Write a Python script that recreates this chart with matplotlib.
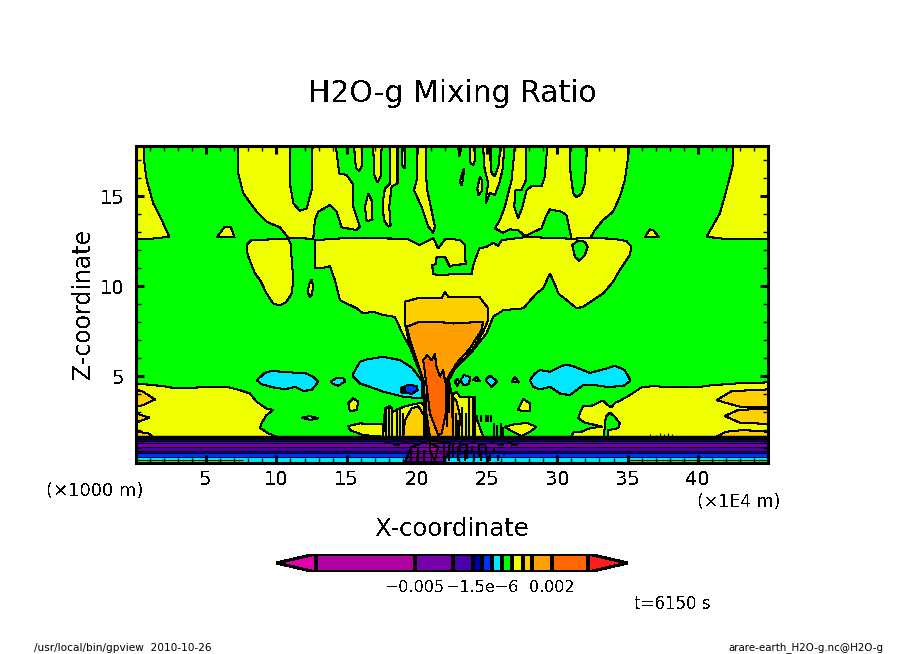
# =============================
# H2O-g MIXING RATIO CONTOURS (gpview style)
# =============================
import matplotlib
matplotlib.use("Agg")
import matplotlib.pyplot as plt

plt.rcParams["font.family"] = "DejaVu Sans"
plt.rcParams["text.antialiased"] = False

W, H = 904, 654

# =============================
# COLOURS OF THE TONE LEVELS
# =============================
MAGENTA = "#e000b0"
PURPLE = "#b000a0"
VIOLET = "#7800a8"
INDIGO = "#4800a8"
NAVY = "#0000b0"
BLUE = "#0030ff"
CYAN = "#00e8ff"
GREEN = "#00ff00"
YELLOW = "#f0ff00"
GOLD = "#ffd000"
ORANGE = "#ffa000"
DEEP = "#ff6800"
RED = "#ff1e1e"

# =============================
# CONTOUR OUTLINES (x in 1E4 m, z in 1000 m)
# =============================
top_left_x = [0, .57, .57, .76, 1.23, 1.83, 2.37, 1.12, 0]
top_left_z = [17.78, 17.78, 17.0, 15.89, 14.59, 13.67, 12.74, 12.63, 12.6]

tri_left_x = [5.74, 6.33, 6.74, 7.02]
tri_left_z = [12.70, 13.30, 13.30, 12.70]

upper_a_x = [7.28, 7.28, 7.64, 8.59, 9.30, 10.25, 10.84, 12.62, 12.74, 12.98, 13.81, 14.28, 14.64,
             15.71, 15.94, 15.47, 15.42, 14.99, 14.47, 14.23, 12.57, 12.50, 12.15, 11.67, 11.20, 10.96, 10.96]
upper_a_z = [17.78, 16.26, 15.15, 14.13, 13.57, 13.26, 12.67, 12.63, 13.67, 14.13, 14.50, 14.13, 13.26,
             13.11, 13.30, 14.41, 15.70, 16.17, 16.26, 17.78, 17.78, 15.33, 14.31, 14.18, 14.59, 15.70, 17.78]

finger1_x = [15.52, 15.66, 15.90, 16.06, 16.11]
finger1_z = [17.78, 16.54, 16.41, 16.63, 17.78]
finger2_x = [16.89, 16.96, 17.18, 17.41, 17.49]
finger2_z = [17.78, 16.17, 15.76, 16.07, 17.78]
lens1_x = [16.54, 16.77, 16.84, 16.42, 16.30]
lens1_z = [15.15, 14.78, 13.67, 13.61, 14.41]
finger3_x = [18.08, 18.08, 17.72, 17.56, 17.65, 17.96, 18.13, 18.03, 18.20, 18.62, 18.62]
finger3_z = [17.78, 15.70, 15.42, 14.59, 13.67, 13.30, 13.39, 14.41, 15.52, 15.70, 17.78]
finger4_x = [18.91, 18.98, 19.15, 19.19]
finger4_z = [17.78, 16.63, 16.54, 17.78]
finger5_x = [19.98, 19.98, 19.79, 20.33, 20.81, 21.16, 21.28, 21.04, 20.74, 20.64, 20.62]
finger5_z = [17.78, 15.89, 15.33, 14.41, 13.30, 12.96, 13.30, 14.22, 15.33, 16.26, 17.78]
finger6_x = [22.94, 23.01, 23.13, 23.13]
finger6_z = [17.78, 17.18, 17.55, 17.78]
lens2_x = [23.35, 23.30, 23.18, 23.06, 23.23]
lens2_z = [16.54, 15.98, 15.61, 15.80, 16.26]
finger7_x = [23.77, 23.82, 24.01, 24.13, 24.13]
finger7_z = [17.78, 16.81, 16.72, 17.0, 17.78]
lens3_x = [24.49, 24.67, 24.60, 24.37, 24.30]
lens3_z = [16.07, 15.80, 15.24, 15.05, 15.42]
finger8_x = [24.72, 24.79, 25.08, 24.96, 24.91, 25.20, 25.55, 25.86, 26.15, 26.19, 25.91, 25.86, 25.55, 25.32, 25.24, 25.24]
finger8_z = [17.78, 16.63, 15.70, 15.15, 14.59, 15.18, 15.05, 15.70, 16.63, 17.78, 17.78, 16.81, 16.11, 16.26, 17.0, 17.78]

upper_b_x = [26.98, 27.76, 27.76, 27.45, 27.02, 26.93, 27.21, 27.52, 27.81, 28.16, 28.87, 29.11, 29.28,
             30.89, 30.94, 31.13, 31.37, 31.72, 31.96, 32.12, 35.04, 35.04, 34.81, 34.45, 33.97, 33.26,
             32.67, 32.36, 31.48, 31.01, 30.65, 30.30, 29.47, 29.18, 28.87, 27.69, 27.21, 26.62, 26.15,
             25.55, 25.91, 26.26, 26.74]
upper_b_z = [17.78, 17.78, 15.89, 15.33, 15.33, 14.41, 13.76, 14.41, 15.33, 15.55, 15.55, 16.07, 17.78,
             17.78, 16.26, 15.15, 14.92, 15.15, 15.70, 17.78, 17.78, 17.18, 15.89, 14.96, 14.13, 13.67,
             13.11, 12.68, 12.55, 12.63, 13.94, 14.13, 14.26, 13.85, 13.20, 12.78, 13.11, 13.15, 12.96,
             13.20, 13.67, 14.41, 15.89]

tri_right_x = [36.23, 36.59, 36.82, 37.25]
tri_right_z = [12.70, 13.15, 13.11, 12.70]
top_right_x = [42.52, 42.52, 42.04, 41.57, 40.62, 42.04, 45, 45]
top_right_z = [17.78, 16.81, 15.33, 14.04, 12.74, 12.61, 12.6, 17.78]

lobe_x = [7.88, 7.88, 8.23, 10.84, 11.0, 11.13, 11.2, 11.08, 10.72, 10.25, 9.77, 9.3, 8.83, 8.47, 8.0]
lobe_z = [12.0, 12.28, 12.55, 12.63, 12.37, 11.07, 10.33, 9.59, 9.13, 8.92, 9.03, 9.59, 10.33, 10.70, 11.63]
lens4_x = [12.5, 12.62, 12.5, 12.38, 12.22, 12.31]
lens4_z = [10.37, 9.96, 9.5, 9.37, 9.68, 10.05]

band_x = [12.74, 14.99, 19.26, 20.21, 21.16, 21.52, 21.99, 22.35, 23.06, 23.42, 23.47, 22.59, 22.35,
          21.99, 21.40, 21.35, 21.09, 21.16, 21.87, 22.35, 23.89, 24.01, 24.44, 24.96, 25.44, 25.79,
          26.03, 27.57, 28.76, 31.01, 32.31, 33.97, 34.92, 35.28, 35.16, 34.45, 33.97, 33.27, 32.55,
          31.84, 31.37, 30.66, 30.06, 29.94, 29.47, 28.99, 28.52, 27.57, 26.15, 25.43, 24.96, 24.01,
          23.30, 22.47, 22.23, 20.45, 20.21, 19.62, 19.03, 18.43, 17.6, 16.89, 16.18, 15.71, 14.52,
          14.40, 14.16, 13.81, 13.21, 12.74]
band_z = [12.55, 12.67, 12.63, 12.28, 12.67, 12.09, 12.59, 12.63, 12.55, 12.28, 11.22, 11.17, 11.07,
          11.63, 11.59, 11.22, 11.15, 10.65, 10.61, 10.65, 10.65, 11.17, 12.09, 12.18, 12.41, 12.22,
          12.55, 12.70, 12.70, 12.63, 12.67, 12.63, 12.50, 12.18, 11.72, 10.89, 10.24, 9.59, 9.22,
          8.85, 8.76, 9.22, 9.59, 9.87, 10.70, 9.87, 9.59, 8.76, 8.66, 8.29, 7.37, 6.44,
          5.89, 5.33, 4.87, 4.87, 5.42, 6.44, 7.27, 8.29, 8.39, 8.57, 8.48, 8.76, 9.22,
          9.59, 10.33, 11.11, 10.98, 10.98]
hole_x = [31.06, 31.48, 31.96, 32.15, 31.96, 31.56, 31.25]
hole_z = [12.28, 12.52, 12.46, 12.18, 11.72, 11.41, 11.63]

low_left_x = [0, 1.95, 2.89, 4.08, 5.03, 6.45, 7.40, 8.11, 8.59, 9.30, 9.77, 9.30, 8.94, 8.83, 9.06, 9.42, 10.01, 0]
low_left_z = [4.59, 4.44, 4.31, 4.35, 4.40, 4.40, 4.22, 4.03, 3.57, 3.20, 3.11, 2.84, 2.37, 2.10, 2.0, 1.82, 1.63, 1.63]
gold_l1_x = [0, .40, 1.35, .52, 0]
gold_l1_z = [4.22, 4.18, 3.70, 3.39, 3.30]
gold_l2_x = [0, .95, 0]
gold_l2_z = [2.93, 2.69, 2.41]
gold_l3_x = [0, .88, 1.19, 0]
gold_l3_z = [1.91, 1.82, 1.63, 1.63]

low_right_x = [31.0, 31.12, 31.72, 32.31, 33.21, 31.95, 31.48, 31.60, 31.84, 32.44, 33.03, 33.27, 33.5,
               33.86, 34.1, 34.45, 35.16, 35.99, 36.82, 38.37, 39.91, 40.86, 42.76, 45, 45, 33.62, 33.62,
               34.33, 34.45, 34.09, 33.73, 33.45, 33.38, 33.31]
low_right_z = [1.63, 1.86, 1.91, 2.10, 2.19, 2.41, 2.65, 2.93, 3.34, 3.35, 3.57, 3.63, 3.44,
               3.26, 3.52, 3.63, 3.94, 4.37, 4.44, 4.37, 4.37, 4.48, 4.59, 4.65, 1.63, 1.63, 2.0,
               2.10, 2.37, 2.74, 2.97, 2.74, 2.19, 1.63]
gold_r1_x = [41.33, 42.40, 45, 45, 42.99]
gold_r1_z = [3.66, 4.16, 4.26, 3.26, 3.30]
gold_r2_x = [41.92, 42.87, 44.17, 45, 45, 42.99]
gold_r2_z = [2.78, 3.11, 3.17, 3.17, 2.34, 2.41]
gold_r3_x = [41.33, 42.04, 43.22, 45, 45]
gold_r3_z = [1.63, 1.91, 2.0, 1.91, 1.63]

blob1_x = [15.11, 15.47, 15.83, 15.71, 15.23]
blob1_z = [3.48, 3.76, 3.57, 3.11, 3.05]
blob2_x = [27.21, 27.57, 28.04, 28.04, 27.45]
blob2_z = [3.14, 3.72, 3.48, 3.07, 3.07]
lens_r_x = [26.26, 26.86, 27.81, 28.52, 28.04, 27.45, 26.62]
lens_r_z = [2.18, 2.31, 2.40, 2.18, 1.90, 1.66, 2.0]
lens_l_x = [15.11, 15.94, 17.6, 17.6, 16.18, 15.23]
lens_l_z = [2.22, 2.37, 2.31, 1.63, 1.72, 2.0]

core_left_x = [17.60, 17.72, 18.08, 18.32, 19.03, 19.50, 20.33, 20.74, 20.93]
core_left_z = [1.63, 3.20, 3.33, 3.02, 3.29, 3.39, 3.52, 3.11, 1.63]
core_left_gold_x = [19.03, 19.15, 19.62, 20.10, 20.57, 20.81]
core_left_gold_z = [1.63, 2.55, 3.20, 3.33, 2.74, 1.63]
core_right_x = [22.47, 22.47, 22.82, 23.06, 24.13, 24.13, 24.72]
core_right_z = [1.63, 3.94, 4.13, 3.85, 3.85, 2.92, 1.63]
core_right_gold_x = [22.47, 22.47, 22.82, 23.06, 23.0]
core_right_gold_z = [1.63, 3.94, 3.6, 2.8, 1.63]

funnel_gold_x = [19.15, 19.98, 21.76, 21.99, 22.23, 24.48, 25.08, 25.08, 24.72, 24.01, 23.30, 22.71, 22.35,
                 20.45, 19.86, 19.50, 19.15]
funnel_gold_z = [9.13, 9.31, 9.31, 9.68, 9.40, 9.37, 8.76, 8.11, 7.46, 6.53, 5.89, 5.42, 4.87,
                 4.77, 5.89, 6.63, 7.92]
funnel_orange_x = [19.27, 20.21, 21.40, 22.59, 24.72, 24.60, 23.77, 22.82, 22.23, 22.47, 22.59, 20.93, 20.74,
                   20.57, 20.45, 19.98, 19.62]
funnel_orange_z = [7.74, 8.02, 8.02, 7.92, 8.02, 7.55, 6.53, 5.70, 4.96, 4.03, 1.63, 1.63, 2.55,
                   3.48, 4.77, 5.89, 6.72]
funnel_deep_x = [20.45, 20.74, 21.04, 21.28, 21.40, 21.64, 21.88, 21.99, 22.11, 22.06, 21.76, 21.52, 20.93, 20.64]
funnel_deep_z = [5.89, 6.16, 5.89, 6.22, 5.52, 4.96, 5.33, 4.77, 4.40, 2.92, 1.81, 1.72, 2.92, 4.77]

cyan_left_x = [15.47, 15.94, 16.42, 17.6, 18.79, 19.62, 20.33, 20.33, 19.03, 17.6, 16.66, 15.94, 15.47]
cyan_left_z = [5.14, 5.79, 5.92, 6.07, 5.89, 5.48, 4.77, 3.76, 3.85, 4.13, 4.40, 4.59, 4.96]
blue_spot_x = [18.91, 19.38, 19.98, 20.05, 19.62, 19.03]
blue_spot_z = [4.31, 4.53, 4.44, 4.22, 4.0, 4.13]
navy_spot_x = [18.86, 19.08, 19.08, 18.86]
navy_spot_z = [4.37, 4.37, 4.09, 4.09]
cyan_far_x = [8.59, 9.18, 9.66, 10.37, 12.15, 12.62, 12.98, 12.5, 11.91, 11.32, 10.6, 9.77, 8.94]
cyan_far_z = [4.77, 5.18, 5.29, 5.24, 5.14, 4.96, 4.68, 4.22, 4.18, 4.40, 4.27, 4.37, 4.55]
cyan_small_x = [13.86, 14.28, 14.76, 14.92, 14.4, 14.05]
cyan_small_z = [4.68, 4.90, 4.87, 4.72, 4.46, 4.55]
slit_x = [11.79, 12.38, 12.98, 12.38]
slit_z = [2.69, 2.78, 2.65, 2.56]
cyan_right_x = [28.04, 28.4, 28.75, 29.47, 30.54, 31.13, 32.32, 33.27, 34.1, 34.81, 35.21, 34.69, 33.5, 32.67,
                31.84, 30.89, 30.18, 29.47, 28.75, 28.28]
cyan_right_z = [4.77, 5.14, 5.33, 5.24, 5.64, 5.55, 5.18, 5.37, 5.57, 5.33, 4.74, 4.44, 4.40, 4.50,
                4.50, 3.94, 4.03, 4.40, 4.26, 4.40]
cyan_r1_x = [24.89, 25.2, 25.72, 25.31]
cyan_r1_z = [4.77, 5.02, 4.72, 4.40]
cyan_r2_x = [26.74, 26.98, 27.26]
cyan_r2_z = [4.68, 4.96, 4.64]
cyan_r3_x = [22.71, 22.87, 23.01, 22.87]
cyan_r3_z = [4.68, 4.87, 4.68, 4.44]
cyan_r4_x = [23.11, 23.35, 23.77, 23.73, 23.30]
cyan_r4_z = [4.77, 5.05, 4.96, 4.55, 4.5]
cyan_r5_x = [24.01, 24.25, 24.48]
cyan_r5_z = [4.77, 4.96, 4.72]

# horizontal layers near the ground, bottom to top
layer_edges = [0.17, 0.52, 0.71, 0.84, 1.04, 1.26, 1.41, 1.63]
layer_colors = [CYAN, BLUE, NAVY, INDIGO, VIOLET, INDIGO, NAVY]
layer_span = [0, 45]
green_left = [0, 7.6]
green_right = [35.2, 45]
green_strip_z = [0.17, 0.34]

dome_x = [19.15, 19.62, 20.93, 22.35, 22.23, 21.88]
dome_z = [.24, 1.07, 1.44, 1.26, .70, .24]
dome_core_x = [20.93, 21.52, 21.28, 20.93]
dome_core_z = [1.26, 1.07, .33, .80]

# noisy strokes around the convection column
spike_x = [17.77, 18.01, 18.24, 18.55, 18.79, 19.03, 20.50, 20.64, 20.81, 22.16, 22.30, 22.59, 22.75, 22.94,
           23.18, 23.49, 23.73, 23.96, 24.13, 24.29, 24.60, 24.89, 25.08, 25.31, 25.48, 25.72, 25.96, 26.15]
spike_lo = [1.63, 1.63, 1.63, 1.63, 1.63, 1.63, 1.63, 1.63, 1.63, 2.18, 2.92, 1.63, 1.63, 1.63,
            1.63, 1.63, 1.63, 1.63, 1.63, 2.46, 2.46, 2.46, 2.46, 2.46, 1.63, 1.63, 1.63, 1.63]
spike_hi = [3.29, 3.20, 3.29, 3.20, 3.29, 2.92, 4.77, 4.03, 2.55, 4.87, 4.77, 4.03, 2.92, 2.55,
            3.29, 2.92, 3.85, 3.85, 3.29, 2.83, 2.83, 2.83, 2.83, 2.83, 2.37, 2.28, 2.37, 2.18]
speck_x = [19.6, 20.1, 20.5, 21.9, 22.3, 22.6, 22.9, 23.1, 23.4, 23.6, 23.9, 24.1, 24.4, 24.6, 24.9, 25.2, 25.5, 25.8, 26.2]
speck_lo = [.3, .4, .3, .3, .3, .5, .3, .6, .3, .4, .7, .3, .5, .3, .6, .3, .7, .3, .6]
speck_hi = [.8, 1.0, .9, 1.3, .9, 1.3, 1.1, 1.4, .9, 1.3, 1.1, .8, 1.3, .9, 1.1, .7, 1.0, .6, .8]
dash_z = [1.31, 1.18, 1.31, 1.18, 1.31, 1.18, 1.31, 1.18, 1.31, 1.18]
dash_start = [17.7, 18.3, 19.0, 23.0, 23.8, 24.4, 25.2, 25.7, 26.4, 26.7]
dash_end = [18.1, 18.8, 19.5, 23.5, 24.2, 24.9, 25.5, 26.2, 26.8, 27.2]
far_spike_x = [36.6, 37.0, 37.3, 37.6, 37.9, 38.2]
far_spike_hi = [1.8, 1.75, 1.85, 1.8, 1.85, 1.8]

# =============================
# TICKS AND COLOUR BAR
# =============================
x_major = [5, 10, 15, 20, 25, 30, 35, 40]
x_minor = list(range(1, 45))
z_major = [5, 10, 15]
z_minor = list(range(1, 18))

bar_widths = [297, 115, 60, 28, 30, 30, 30, 32, 28, 58, 109]
bar_colors = [PURPLE, VIOLET, INDIGO, NAVY, BLUE, CYAN, GREEN, YELLOW, GOLD, ORANGE, DEEP]
bar_tip = 120
bar_labels = ["−0.005", "−1.5e−6", "0.002"]
bar_label_edges = [1, 4, 10]

# =============================
# FIGURE
# =============================
def place(ax_left, ax_top, ax_right, ax_bottom):
    return [ax_left / W, 1 - ax_bottom / H, (ax_right - ax_left) / W, (ax_bottom - ax_top) / H]

def put(x, y, s, **kw):
    kw.setdefault("ha", "center")
    kw.setdefault("va", "center")
    fig.text(x / W, 1 - y / H, s, **kw)

fig = plt.figure(figsize=(W / 100, H / 100), dpi=100)
ax = fig.add_axes(place(136, 146, 768, 463))
ax.set_facecolor(GREEN)

def region(xs, zs, color):
    ax.fill(xs, zs, facecolor=color, edgecolor="black", linewidth=0.75, antialiased=False)

for xs, zs in [(top_left_x, top_left_z), (tri_left_x, tri_left_z), (upper_a_x, upper_a_z),
               (finger1_x, finger1_z), (finger2_x, finger2_z), (lens1_x, lens1_z),
               (finger3_x, finger3_z), (finger4_x, finger4_z), (finger5_x, finger5_z),
               (finger6_x, finger6_z), (lens2_x, lens2_z), (finger7_x, finger7_z),
               (lens3_x, lens3_z), (finger8_x, finger8_z), (upper_b_x, upper_b_z),
               (tri_right_x, tri_right_z), (top_right_x, top_right_z), (lobe_x, lobe_z),
               (lens4_x, lens4_z), (band_x, band_z), (low_left_x, low_left_z),
               (low_right_x, low_right_z), (blob1_x, blob1_z), (blob2_x, blob2_z),
               (lens_r_x, lens_r_z), (lens_l_x, lens_l_z), (core_left_x, core_left_z),
               (core_right_x, core_right_z)]:
    region(xs, zs, YELLOW)

region(hole_x, hole_z, GREEN)

for xs, zs in [(gold_l1_x, gold_l1_z), (gold_l2_x, gold_l2_z), (gold_l3_x, gold_l3_z),
               (gold_r1_x, gold_r1_z), (gold_r2_x, gold_r2_z), (gold_r3_x, gold_r3_z),
               (core_left_gold_x, core_left_gold_z), (core_right_gold_x, core_right_gold_z),
               (funnel_gold_x, funnel_gold_z)]:
    region(xs, zs, GOLD)

region(funnel_orange_x, funnel_orange_z, ORANGE)
region(funnel_deep_x, funnel_deep_z, DEEP)

for xs, zs in [(cyan_left_x, cyan_left_z), (cyan_far_x, cyan_far_z), (cyan_small_x, cyan_small_z),
               (slit_x, slit_z), (cyan_right_x, cyan_right_z), (cyan_r1_x, cyan_r1_z),
               (cyan_r2_x, cyan_r2_z), (cyan_r3_x, cyan_r3_z), (cyan_r4_x, cyan_r4_z),
               (cyan_r5_x, cyan_r5_z)]:
    region(xs, zs, CYAN)
region(blue_spot_x, blue_spot_z, BLUE)
region(navy_spot_x, navy_spot_z, NAVY)

# near-ground layers
for lo, hi, color in zip(layer_edges[:-1], layer_edges[1:], layer_colors):
    ax.fill_between(layer_span, lo, hi, color=color, linewidth=0, antialiased=False)
ax.fill_between(green_left, green_strip_z[0], green_strip_z[1], color=GREEN, linewidth=0, antialiased=False)
ax.fill_between(green_right, green_strip_z[0], green_strip_z[1], color=GREEN, linewidth=0, antialiased=False)
ax.hlines(layer_edges[1:-1], 0, 45, color="black", linewidth=0.75)
ax.hlines(green_strip_z[1], *green_left, color="black", linewidth=0.75)
ax.hlines(green_strip_z[1], *green_right, color="black", linewidth=0.75)
ax.hlines(1.55, 0, 45, color="black", linewidth=3.2)

region(dome_x, dome_z, VIOLET)
region(dome_core_x, dome_core_z, PURPLE)

ax.vlines(spike_x, spike_lo, spike_hi, color="black", linewidth=1.5)
ax.vlines(speck_x, speck_lo, speck_hi, color="black", linewidth=1.5)
ax.hlines(dash_z, dash_start, dash_end, color="black", linewidth=1.2)
ax.vlines(far_spike_x, 1.63, far_spike_hi, color="black", linewidth=0.8)

ax.set_xlim(0, 45)
ax.set_ylim(0.17, 17.78)
ax.set_axisbelow(False)
ax.set_xticks(x_major)
ax.set_xticks(x_minor, minor=True)
ax.set_yticks(z_major)
ax.set_yticks(z_minor, minor=True)
ax.tick_params(which="major", direction="in", top=True, right=True, length=6, width=2.2, labelsize=14)
ax.tick_params(which="minor", direction="in", top=True, right=True, length=3.5, width=1)
ax.tick_params(axis="x", which="major", pad=5)
ax.tick_params(axis="y", which="major", pad=8)
for sp in ax.spines.values():
    sp.set_linewidth(2.2)

# colour bar with triangular ends
cax = fig.add_axes(place(276, 554, 628, 572))
left = 0
for width, color in zip(bar_widths, bar_colors):
    cax.barh(0.5, width, height=1, left=left, color=color, edgecolor="black", linewidth=1.5, antialiased=False)
    left += width
cax.fill([0, -bar_tip, 0], [0, 0.5, 1], facecolor=MAGENTA, edgecolor="black", linewidth=1.5, antialiased=False)
cax.fill([left, left + bar_tip, left], [0, 0.5, 1], facecolor=RED, edgecolor="black", linewidth=1.5, antialiased=False)
cax.set_xlim(-bar_tip, left + bar_tip)
cax.set_ylim(0, 1)
cax.set_yticks([])
cax.set_xticks([sum(bar_widths[:i]) for i in bar_label_edges])
cax.set_xticklabels(bar_labels, fontsize=11.5)
cax.tick_params(axis="x", length=0, pad=6)
for sp in cax.spines.values():
    sp.set_visible(False)

# =============================
# TEXT
# =============================
put(452, 94, "H2O-g Mixing Ratio", fontsize=21.5)
put(452, 529, "X-coordinate", fontsize=17.5)
put(83, 304, "Z-coordinate", fontsize=17, rotation=90)
put(95, 491, "(×1000 m)", fontsize=13)
put(739, 502, "(×1E4 m)", fontsize=12.5)
put(672, 604, "t=6150 s", fontsize=12)
# aliased text drops thin strokes at this size
put(34, 648, "/usr/local/bin/gpview  2010-10-26", fontsize=7.6, ha="left", antialiased=True)
put(883, 648, "arare-earth_H2O-g.nc@H2O-g", fontsize=7.4, ha="right", antialiased=True)

fig.savefig("out.png", dpi=100)
